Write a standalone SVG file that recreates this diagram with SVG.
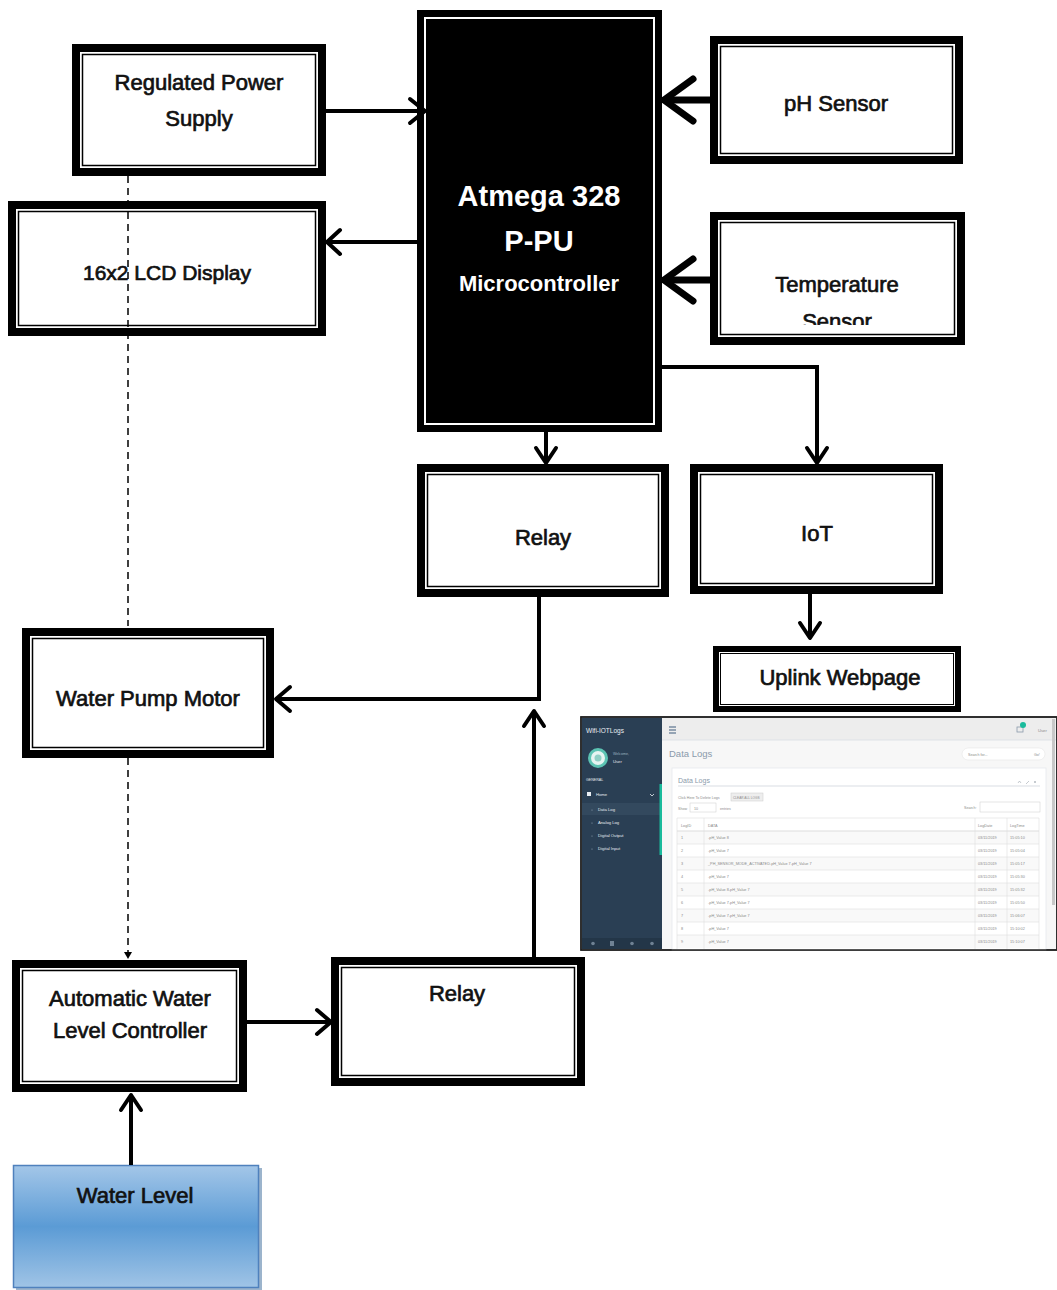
<svg xmlns="http://www.w3.org/2000/svg" width="1057" height="1290" viewBox="0 0 1057 1290">
<defs>
<style>
.o{fill:#fff;stroke:#000;stroke-width:8}
.i{fill:none;stroke:#000;stroke-width:1.5}
.t{font-family:"Liberation Sans",Arial,sans-serif;font-size:22px;fill:#111;stroke:#111;stroke-width:0.7;text-anchor:middle}
.w{font-family:"Liberation Sans",Arial,sans-serif;fill:#fff;text-anchor:middle}
.ln{fill:none;stroke:#000;stroke-width:4}
.hd{fill:none;stroke:#000;stroke-width:4;stroke-linecap:round;stroke-linejoin:round}
.big{fill:none;stroke:#000;stroke-width:7;stroke-linecap:round;stroke-linejoin:round}
.s{font-family:"Liberation Sans",Arial,sans-serif;font-size:4.2px;fill:#8a8a8a}
.sw{font-family:"Liberation Sans",Arial,sans-serif;font-size:4.2px;fill:#e8edf2}
.gl{stroke:#dddddd;stroke-width:0.6}
</style>
<linearGradient id="wl" x1="0" y1="0" x2="0" y2="1">
<stop offset="0" stop-color="#a3c6e8"/>
<stop offset="0.5" stop-color="#5b9bd5"/>
<stop offset="1" stop-color="#a0c4e6"/>
</linearGradient>
<clipPath id="tc"><rect x="720" y="222" width="234" height="103"/></clipPath>
</defs>
<rect width="1057" height="1290" fill="#fff"/>

<g id="power">
<rect class="o" x="76" y="48" width="246" height="124"/>
<rect class="i" x="82.5" y="54.5" width="233" height="111"/>
<text class="t" x="199" y="90">Regulated Power</text>
<text class="t" x="199" y="126">Supply</text>
</g>

<g id="lcd">
<rect class="o" x="12" y="205" width="310" height="127"/>
<rect class="i" x="18.5" y="211.5" width="297" height="114"/>
<text class="t" x="167" y="280" style="font-size:21px">16x2 LCD Display</text>
</g>

<g id="micro">
<rect x="417" y="10" width="245" height="422" fill="#000"/>
<rect x="425" y="18" width="229" height="406" fill="none" stroke="#fff" stroke-width="2"/>
<text class="w" x="539" y="206" style="font-size:29px;font-weight:bold">Atmega 328</text>
<text class="w" x="539" y="251" style="font-size:29px;font-weight:bold">P-PU</text>
<text class="w" x="539" y="291" style="font-size:22px;font-weight:bold">Microcontroller</text>
</g>

<g id="ph">
<rect class="o" x="714" y="40" width="245" height="120"/>
<rect class="i" x="720.5" y="46.5" width="232" height="107"/>
<text class="t" x="836" y="111">pH Sensor</text>
</g>

<g id="temp">
<rect class="o" x="714" y="216" width="247" height="125"/>
<rect class="i" x="720.5" y="222.5" width="234" height="112"/>
<g clip-path="url(#tc)">
<text class="t" x="837" y="292">Temperature</text>
<text class="t" x="837" y="329">Sensor</text>
</g>
</g>

<g id="relay1">
<rect class="o" x="421" y="468" width="244" height="125"/>
<rect class="i" x="427.5" y="474.5" width="231" height="112"/>
<text class="t" x="543" y="545">Relay</text>
</g>

<g id="iot">
<rect class="o" x="694" y="468" width="245" height="122"/>
<rect class="i" x="700.5" y="474.5" width="232" height="109"/>
<text class="t" x="817" y="541">IoT</text>
</g>

<g id="uplink">
<rect x="716" y="649" width="242" height="60" fill="#fff" stroke="#000" stroke-width="6"/>
<rect x="720.5" y="653.5" width="233" height="51" fill="none" stroke="#000" stroke-width="1"/>
<text class="t" x="840" y="685">Uplink Webpage</text>
</g>

<g id="pump">
<rect class="o" x="26" y="632" width="244" height="122"/>
<rect class="i" x="32.5" y="638.5" width="231" height="109"/>
<text class="t" x="148" y="706">Water Pump Motor</text>
</g>

<g id="alwc">
<rect class="o" x="16" y="964" width="227" height="124"/>
<rect class="i" x="22.5" y="970.5" width="214" height="111"/>
<text class="t" x="130" y="1006">Automatic Water</text>
<text class="t" x="130" y="1038">Level Controller</text>
</g>

<g id="relay2">
<rect class="o" x="335" y="961" width="246" height="121"/>
<rect class="i" x="341.5" y="967.5" width="233" height="108"/>
<text class="t" x="457" y="1001">Relay</text>
</g>

<g id="waterlevel">
<rect x="16" y="1168" width="246" height="122" fill="#3a6a9a" opacity="0.5"/>
<rect x="13.5" y="1165.5" width="245" height="122" fill="url(#wl)" stroke="#4f81bd" stroke-width="1.5"/>
<text class="t" x="135" y="1203">Water Level</text>
</g>

<g id="webpage">
<rect x="581" y="717" width="476" height="233" fill="#f7f7f7" stroke="#222" stroke-width="1.5"/>
<rect x="582" y="718" width="80" height="231" fill="#2a3f54"/>
<text class="sw" x="586" y="733" style="font-size:6.5px">Wifi-IOTLogs</text>
<circle cx="598" cy="758" r="8.5" fill="#e6f4f2" stroke="#5cc3b3" stroke-width="3"/>
<circle cx="598" cy="758" r="3.5" fill="#8fcfc5"/>
<text class="sw" x="613" y="755" style="font-size:3.6px;fill:#9fb0c0">Welcome,</text>
<text class="sw" x="613" y="763">User</text>
<text class="sw" x="586" y="781" style="font-size:3.6px">GENERAL</text>
<rect x="587" y="792" width="4" height="4" fill="#e8edf2"/>
<text class="sw" x="596" y="796">Home</text>
<path d="M650,794 l2,2 l2,-2" fill="none" stroke="#e8edf2" stroke-width="0.8"/>
<rect x="582" y="803" width="78" height="12" fill="#33495e"/>
<text class="sw" x="598" y="811">Data Log</text>
<text class="sw" x="598" y="824">Analog Log</text>
<text class="sw" x="598" y="837">Digital Output</text>
<text class="sw" x="598" y="850">Digital Input</text>
<g fill="#8fa0b0"><circle cx="592" cy="810" r="0.6"/><circle cx="592" cy="823" r="0.6"/><circle cx="592" cy="836" r="0.6"/><circle cx="592" cy="849" r="0.6"/></g>
<rect x="659.5" y="784" width="2.5" height="71" fill="#1abb9c"/>
<rect x="582" y="938" width="80" height="11" fill="#233648"/>
<g fill="#6f8294"><circle cx="593" cy="943.5" r="1.8"/><rect x="610" y="941" width="4" height="5"/><circle cx="632" cy="943.5" r="1.8"/><circle cx="652" cy="943.5" r="1.8"/></g>
<rect x="662" y="718" width="394" height="22" fill="#ededed"/>
<line x1="662" y1="740" x2="1056" y2="740" stroke="#d9dee4" stroke-width="0.8"/>
<g stroke="#5a738e" stroke-width="1.2"><line x1="669" y1="727" x2="676" y2="727"/><line x1="669" y1="730" x2="676" y2="730"/><line x1="669" y1="733" x2="676" y2="733"/></g>
<rect x="1017" y="727" width="6" height="5" fill="none" stroke="#8a9aab" stroke-width="0.8"/>
<circle cx="1023" cy="725" r="3" fill="#1abb9c"/>
<text class="s" x="1038" y="732">User</text>
<text class="s" x="669" y="757" style="font-size:9.5px;fill:#8a9aab">Data Logs</text>
<rect x="962" y="748" width="83" height="12" rx="6" fill="#fff" stroke="#e6e6e6" stroke-width="0.6"/>
<text class="s" x="968" y="756" style="font-size:3.6px">Search for...</text>
<text class="s" x="1034" y="756" style="font-size:3.6px">Go!</text>
<rect x="672" y="768" width="374" height="182" fill="#fff" stroke="#e6e9ed" stroke-width="0.8"/>
<text class="s" x="678" y="783" style="font-size:7px;fill:#8a9aab">Data Logs</text>
<g fill="none" stroke="#a0a8b0" stroke-width="0.6"><path d="M1018,783 l1.5,-2 l1.5,2"/><path d="M1026,784 l3,-3"/><path d="M1034,781 l2,2 M1036,781 l-2,2"/></g>
<line x1="678" y1="786" x2="1040" y2="786" stroke="#e6e9ed" stroke-width="1.5"/>
<text class="s" x="678" y="799" style="font-size:3.6px">Click Here To Delete Logs</text>
<rect x="731" y="793" width="32" height="8" fill="#eee" stroke="#ccc" stroke-width="0.5"/>
<text class="s" x="733" y="799" style="font-size:3.2px">CLEAR ALL LOGS</text>
<text class="s" x="678" y="810" style="font-size:3.6px">Show</text>
<rect x="690" y="803" width="26" height="9" fill="#fff" stroke="#ccc" stroke-width="0.5"/>
<text class="s" x="694" y="810" style="font-size:3.6px">10</text>
<text class="s" x="720" y="810" style="font-size:3.6px">entries</text>
<text class="s" x="964" y="809" style="font-size:3.6px">Search:</text>
<rect x="980" y="802" width="60" height="10" fill="#fff" stroke="#ccc" stroke-width="0.5"/>
<rect x="677" y="818" width="362" height="13" fill="#fff"/>
<g fill="#f9f9f9"><rect x="677" y="831" width="362" height="13"/><rect x="677" y="857" width="362" height="13"/><rect x="677" y="883" width="362" height="13"/><rect x="677" y="909" width="362" height="13"/><rect x="677" y="935" width="362" height="13"/></g>
<line x1="677" y1="831" x2="1039" y2="831" stroke="#ddd" stroke-width="1.2"/>
<g class="gl"><line x1="677" y1="818" x2="1039" y2="818"/><line x1="677" y1="844" x2="1039" y2="844"/><line x1="677" y1="857" x2="1039" y2="857"/><line x1="677" y1="870" x2="1039" y2="870"/><line x1="677" y1="883" x2="1039" y2="883"/><line x1="677" y1="896" x2="1039" y2="896"/><line x1="677" y1="909" x2="1039" y2="909"/><line x1="677" y1="922" x2="1039" y2="922"/><line x1="677" y1="935" x2="1039" y2="935"/><line x1="677" y1="818" x2="677" y2="949"/><line x1="704" y1="818" x2="704" y2="949"/><line x1="975" y1="818" x2="975" y2="949"/><line x1="1007" y1="818" x2="1007" y2="949"/><line x1="1039" y1="818" x2="1039" y2="949"/></g>
<g class="s" style="font-size:3.8px">
<text x="681" y="827">LogID</text><text x="708" y="827">DATA</text><text x="978" y="827">LogDate</text><text x="1010" y="827">LogTime</text>
<text x="681" y="839">1</text><text x="708" y="839">-pH_Value 8</text><text x="978" y="839">03/11/2019</text><text x="1010" y="839">15:05:10</text>
<text x="681" y="852">2</text><text x="708" y="852">-pH_Value 7</text><text x="978" y="852">03/11/2019</text><text x="1010" y="852">15:05:04</text>
<text x="681" y="865">3</text><text x="708" y="865">_PH_SENSOR_MODE_ACTIVATED-pH_Value 7-pH_Value 7</text><text x="978" y="865">03/11/2019</text><text x="1010" y="865">15:05:17</text>
<text x="681" y="878">4</text><text x="708" y="878">-pH_Value 7</text><text x="978" y="878">03/11/2019</text><text x="1010" y="878">15:05:30</text>
<text x="681" y="891">5</text><text x="708" y="891">-pH_Value 8-pH_Value 7</text><text x="978" y="891">03/11/2019</text><text x="1010" y="891">15:05:32</text>
<text x="681" y="904">6</text><text x="708" y="904">-pH_Value 7-pH_Value 7</text><text x="978" y="904">03/11/2019</text><text x="1010" y="904">15:05:50</text>
<text x="681" y="917">7</text><text x="708" y="917">-pH_Value 7-pH_Value 7</text><text x="978" y="917">03/11/2019</text><text x="1010" y="917">15:06:07</text>
<text x="681" y="930">8</text><text x="708" y="930">-pH_Value 7</text><text x="978" y="930">03/11/2019</text><text x="1010" y="930">15:10:02</text>
<text x="681" y="943">9</text><text x="708" y="943">-pH_Value 7</text><text x="978" y="943">03/11/2019</text><text x="1010" y="943">15:10:07</text>
</g>
<rect x="1052" y="719" width="3" height="186" fill="#c8c8c8"/>
<rect x="581" y="717" width="476" height="233" fill="none" stroke="#222" stroke-width="1.5"/>
</g>

<g id="connectors">
<line class="ln" x1="326" y1="111" x2="424" y2="111"/>
<path class="hd" d="M410,99 L425,111 L410,123"/>
<line class="ln" x1="417" y1="242" x2="328" y2="242"/>
<path class="hd" d="M340,230 L327,242 L340,254"/>
<line class="big" x1="710" y1="100" x2="666" y2="100"/>
<path class="big" d="M693,79 L664,100 L693,121"/>
<line class="big" x1="710" y1="280" x2="666" y2="280"/>
<path class="big" d="M693,259 L664,280 L693,301"/>
<line class="ln" x1="546" y1="432" x2="546" y2="463"/>
<path class="hd" d="M536,448 L546,463 L556,448"/>
<path class="ln" d="M662,367 L817,367 L817,463"/>
<path class="hd" d="M807,448 L817,463 L827,448"/>
<line class="ln" x1="810" y1="594" x2="810" y2="638"/>
<path class="hd" d="M800,623 L810,638 L820,623"/>
<path class="ln" d="M539,597 L539,699 L278,699"/>
<path class="hd" d="M290,687 L276,699 L290,711"/>
<line class="ln" x1="534" y1="957" x2="534" y2="712"/>
<path class="hd" d="M524,726 L534,711 L544,726"/>
<line class="ln" x1="247" y1="1022" x2="330" y2="1022"/>
<path class="hd" d="M317,1010 L331,1022 L317,1034"/>
<line class="ln" x1="131" y1="1165" x2="131" y2="1096"/>
<path class="hd" d="M121,1110 L131,1095 L141,1110"/>
<line x1="128" y1="176" x2="128" y2="626" stroke="#000" stroke-width="1.5" stroke-dasharray="7,5"/>
<line x1="128" y1="758" x2="128" y2="952" stroke="#000" stroke-width="1.5" stroke-dasharray="7,5"/>
<path d="M124,952 L132,952 L128,959 Z" fill="#000"/>
</g>
</svg>
